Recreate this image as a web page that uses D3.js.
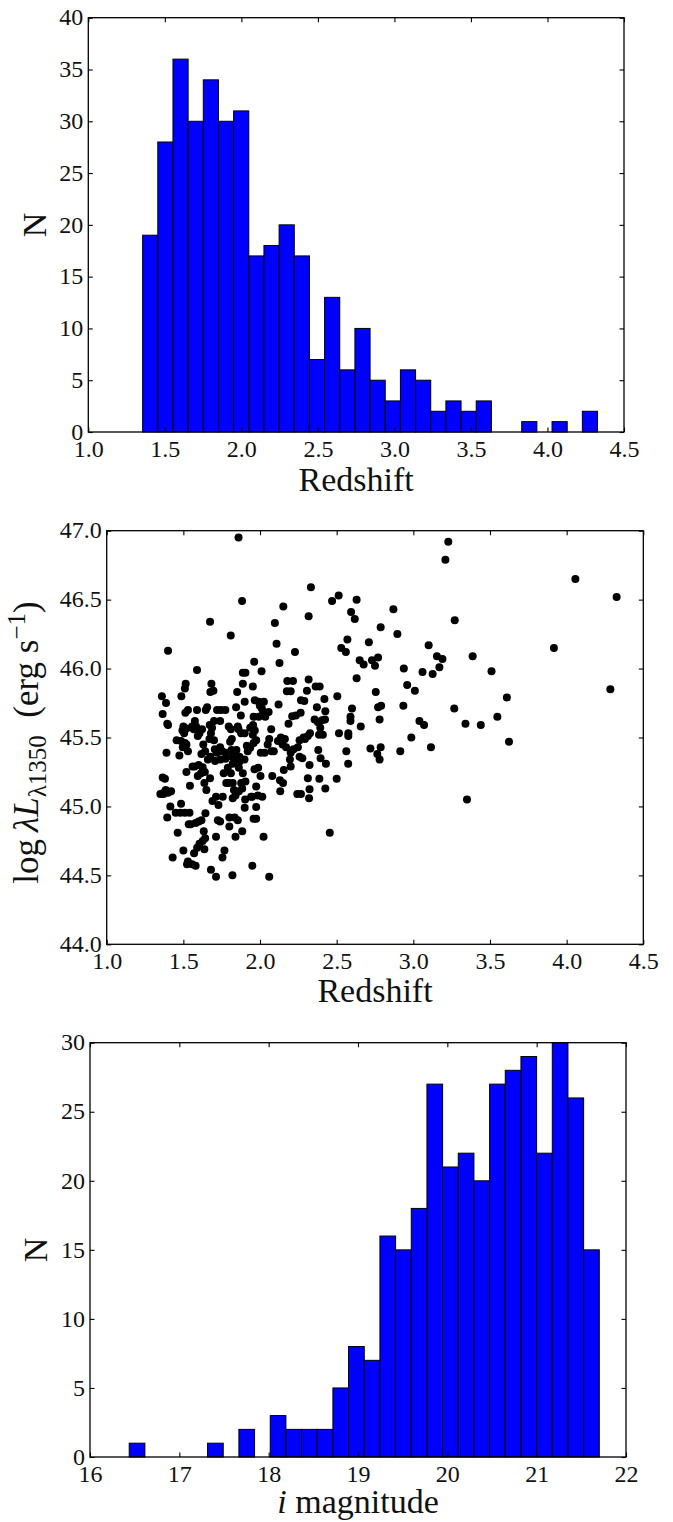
<!DOCTYPE html>
<html>
<head>
<meta charset="utf-8">
<script src="https://cdn.jsdelivr.net/npm/d3@7"></script>
<style>
  body { margin: 0; background: #fff; }
  svg { display: block; }
  text { font-family: "Liberation Serif", "Times New Roman", serif; fill: #111; }
</style>
</head>
<body>
<svg id="fig" width="673" height="1522"></svg>
<script>
// ---- Redshift histogram: 30 equal-width bins between the lowest and highest redshift
const zBinRange = [1.355, 4.327];
const zCounts = [19, 28, 36, 30, 34, 30, 31, 17, 18, 20, 17, 7, 13, 6, 10,
                 5, 3, 6, 5, 2, 3, 2, 3, 0, 0, 1, 0, 1, 0, 2];

// ---- i-band magnitude histogram: 30 equal-width bins
const magBinRange = [16.439, 21.701];
const magCounts = [1, 0, 0, 0, 0, 1, 0, 2, 0, 3, 2, 2, 2, 5, 8, 7, 16, 15, 18,
                   27, 21, 22, 20, 27, 28, 29, 22, 30, 26, 15];

// ---- Continuum luminosity at 1350 A against redshift, one [z, log L] pair per quasar
const zLum = [
  // z 1.35-1.45
  [1.36,45.80],[1.387,45.75],[1.365,45.67],[1.40,45.59],[1.395,45.60],[1.40,46.13],[1.39,45.39],
  [1.365,45.21],[1.38,45.20],[1.35,45.09],[1.37,45.09],[1.385,45.12],[1.40,45.10],[1.42,45.11],
  [1.395,44.92],[1.415,45.00],[1.43,44.63],[1.372,45.10],[1.45,44.955],
  // z 1.45-1.55
  [1.515,45.89],[1.51,45.855],[1.487,45.80],[1.513,45.68],[1.53,45.70],[1.50,45.58],[1.52,45.565],
  [1.494,45.55],[1.456,45.48],[1.485,45.475],[1.496,45.43],[1.474,45.37],[1.52,45.25],[1.543,45.15],
  [1.48,44.955],[1.485,45.02],[1.51,44.955],[1.54,44.955],[1.535,44.87],[1.548,44.87],[1.463,44.81],
  [1.50,44.68],[1.524,44.58],[1.53,44.60],[1.52,45.45],[1.505,45.53],[1.51,45.46],[1.53,45.40],
  // z 1.55-1.65
  [1.589,45.99],[1.589,45.70],[1.646,45.70],[1.557,45.58],[1.568,45.56],[1.583,45.58],[1.598,45.55],
  [1.594,45.51],[1.605,45.53],[1.622,45.56],[1.575,45.62],[1.618,45.38],[1.642,45.40],[1.56,45.29],
  [1.574,45.29],[1.60,45.30],[1.626,45.285],[1.64,45.25],[1.615,45.24],[1.594,45.22],[1.637,45.17],
  [1.650,45.12],[1.58,44.88],[1.60,44.89],[1.618,44.90],[1.644,44.95],[1.605,44.73],[1.59,44.70],
  [1.626,44.75],[1.633,44.82],[1.642,44.77],[1.637,44.69],[1.58,44.57],[1.57,44.66],[1.557,44.58],
  [1.63,45.45],
  // z 1.65-1.75
  [1.674,46.34],[1.683,45.89],[1.676,45.83],[1.696,45.84],[1.655,45.72],[1.72,45.70],[1.745,45.70],
  [1.70,45.62],[1.74,45.62],[1.672,45.59],[1.687,45.57],[1.68,45.53],[1.67,45.49],[1.70,45.48],
  [1.66,45.34],[1.676,45.36],[1.705,45.415],[1.718,45.39],[1.74,45.43],[1.707,45.33],[1.742,45.34],
  [1.674,45.205],[1.713,45.07],[1.69,45.04],[1.729,45.01],[1.725,44.90],[1.74,44.89],[1.713,44.78],
  [1.68,44.54],[1.713,44.49],
  // z 1.75-1.85
  [1.809,46.24],[1.774,45.70],[1.844,45.72],[1.796,45.58],[1.81,45.56],[1.816,45.49],[1.805,45.47],
  [1.753,45.40],[1.775,45.39],[1.775,45.345],[1.814,45.41],[1.833,45.38],[1.846,45.41],[1.818,45.36],
  [1.833,45.345],[1.822,45.31],[1.844,45.33],[1.79,45.28],[1.763,45.24],[1.81,45.24],[1.796,45.17],
  [1.822,45.17],[1.83,45.12],[1.84,45.08],[1.822,45.06],[1.78,45.17],[1.757,45.07],[1.80,44.92],
  [1.835,44.92],[1.84,44.78],[1.80,44.855],[1.768,44.68],[1.755,44.63],[1.82,44.50],
  // z 1.85-1.95
  [1.86,46.95],[1.883,46.49],[1.888,45.97],[1.905,45.97],[1.888,45.89],[1.851,45.83],[1.90,45.76],
  [1.875,45.66],[1.855,45.58],[1.86,45.56],[1.877,45.53],[1.90,45.53],[1.936,45.57],[1.914,45.44],
  [1.936,45.425],[1.899,45.34],[1.866,45.36],[1.866,45.325],[1.92,45.40],[1.862,45.28],[1.888,45.24],
  [1.877,45.17],[1.905,45.18],[1.862,45.11],[1.884,45.13],[1.903,45.05],[1.942,45.07],[1.90,44.99],
  [1.884,44.82],[1.855,44.90],
  // z 1.95-2.05
  [1.962,46.05],[2.01,45.98],[1.953,45.87],[1.966,45.77],[1.992,45.76],[2.025,45.76],[1.999,45.73],
  [2.012,45.71],[1.958,45.65],[1.992,45.65],[2.034,45.65],[1.955,45.59],[1.966,45.55],[1.953,45.52],
  [1.975,45.48],[1.958,45.46],[2.005,45.39],[2.03,45.39],[1.964,45.27],[1.988,45.28],[2.003,45.22],
  [1.975,45.145],[1.95,45.07],[1.986,45.08],[2.015,45.07],[1.975,44.995],[1.958,44.91],[1.975,44.91],
  [1.95,44.57],[2.023,44.78],[2.02,45.68],
  // z 2.05-2.15
  [2.097,46.33],[2.108,46.18],[2.127,46.04],[2.121,45.74],[2.056,45.685],[2.073,45.56],[2.06,45.49],
  [2.05,45.45],[2.075,45.40],[2.117,45.475],[2.136,45.50],[2.147,45.45],[2.08,45.22],[2.13,45.19],
  [2.132,45.11],[2.06,44.49],[2.09,45.40],
  // z 2.15-2.25
  [2.152,46.45],[2.228,46.12],[2.178,45.91],[2.215,45.91],[2.175,45.835],[2.20,45.835],[2.186,45.60],
  [2.21,45.655],[2.234,45.66],[2.162,45.49],[2.20,45.39],[2.219,45.415],[2.195,45.34],[2.20,45.29],
  [2.155,45.265],[2.15,45.17],[2.243,45.09],[2.17,45.43],
  // z 2.25-2.35
  [2.332,46.59],[2.317,46.38],[2.317,45.92],[2.306,45.84],[2.267,45.77],[2.289,45.765],[2.265,45.68],
  [2.247,45.43],[2.258,45.48],[2.284,45.50],[2.293,45.49],[2.326,45.53],[2.312,45.51],[2.258,45.36],
  [2.276,45.35],[2.323,45.30],[2.312,45.205],[2.323,45.125],[2.32,45.06],[2.267,45.09],
  // z 2.35-2.45
  [2.363,45.87],[2.389,45.87],[2.42,45.78],[2.371,45.72],[2.426,45.69],[2.356,45.63],[2.378,45.61],
  [2.404,45.625],[2.424,45.63],[2.393,45.57],[2.385,45.52],[2.41,45.52],[2.38,45.41],[2.43,45.31],
  [2.387,45.20],[2.426,45.13],[2.395,45.35],
  // z 2.45-2.55
  [2.47,46.49],[2.513,46.53],[2.53,46.15],[2.504,45.80],[2.515,45.53],[2.50,45.20],[2.455,44.81],
  // z 2.55-2.65
  [2.63,46.50],[2.594,46.41],[2.618,46.36],[2.57,46.21],[2.56,46.12],[2.63,45.93],[2.60,45.71],
  [2.59,45.65],[2.59,45.62],[2.576,45.53],[2.576,45.51],[2.563,45.40],[2.575,45.31],
  // z 2.65-2.75
  [2.71,46.19],[2.65,46.06],[2.676,46.03],[2.657,45.58],[2.72,45.42],[2.73,46.06],
  // z 2.75-2.85
  [2.787,46.30],[2.77,46.08],[2.75,46.02],[2.755,45.83],[2.77,45.72],[2.79,45.73],[2.78,45.63],
  [2.787,45.43],[2.765,45.38],[2.78,45.34],
  // z 2.85 and above
  [2.87,46.43],[2.896,46.25],[2.935,45.73],[2.915,45.40],[2.938,46.00],
  [2.96,45.88],[3.01,45.84],[2.987,45.50],
  [3.04,45.62],[3.07,45.59],[3.115,45.43],[3.10,46.17],[3.126,45.96],[3.06,45.975],
  [3.154,46.09],[3.19,46.07],[3.17,46.01],[3.228,46.92],[3.209,46.79],
  [3.27,46.35],[3.267,45.71],
  [3.34,45.60],[3.387,46.09],[3.35,45.05],
  [3.44,45.59],[3.51,45.98],
  [3.548,45.65],[3.61,45.79],[3.624,45.47],
  [3.917,46.15],[4.057,46.65],[4.285,45.85],[4.326,46.52]
];

// ---- tick values
const zTicks = [1.0, 1.5, 2.0, 2.5, 3.0, 3.5, 4.0, 4.5];
const nTicksTop = [0, 5, 10, 15, 20, 25, 30, 35, 40];
const lumTicks = [44.0, 44.5, 45.0, 45.5, 46.0, 46.5, 47.0];
const magTicks = [16, 17, 18, 19, 20, 21, 22];
const nTicksBottom = [0, 5, 10, 15, 20, 25, 30];

const svg = d3.select("#fig");
const TICK = 4.5;
const TICK_FONT = 24;
const LABEL_FONT = 34;

// Draws inward ticks on all four sides, tick labels on bottom/left and the frame.
function frame(g, x, y, xTicks, yTicks, xFmt, yFmt) {
  const w = x.range()[1] - x.range()[0];
  const h = y.range()[0] - y.range()[1];
  const styleAxis = sel => {
    sel.attr("font-family", null).attr("font-size", null);
    sel.select(".domain").remove();
    sel.selectAll(".tick line").attr("stroke", "#000").attr("stroke-width", 1.1);
    sel.selectAll(".tick text")
      .attr("fill", "#111")
      .style("font-family", "'Liberation Serif', serif")
      .style("font-size", TICK_FONT + "px");
  };
  g.append("g").attr("transform", `translate(0,${h})`)
    .call(d3.axisBottom(x).tickValues(xTicks).tickFormat(xFmt).tickSizeInner(-TICK).tickSizeOuter(0).tickPadding(8))
    .call(styleAxis);
  g.append("g")
    .call(d3.axisTop(x).tickValues(xTicks).tickFormat("").tickSizeInner(-TICK).tickSizeOuter(0))
    .call(styleAxis);
  g.append("g")
    .call(d3.axisLeft(y).tickValues(yTicks).tickFormat(yFmt).tickSizeInner(-TICK).tickSizeOuter(0).tickPadding(5))
    .call(styleAxis)
    .selectAll(".tick text").attr("dy", "0.30em");
  g.append("g").attr("transform", `translate(${w},0)`)
    .call(d3.axisRight(y).tickValues(yTicks).tickFormat("").tickSizeInner(-TICK).tickSizeOuter(0))
    .call(styleAxis);
  g.append("rect")
    .attr("width", w).attr("height", h)
    .attr("fill", "none").attr("stroke", "#000").attr("stroke-width", 1.3);
}

function histogram(box, domainX, xTicks, xFmt, range, counts, yMax, yTicks) {
  const g = svg.append("g").attr("transform", `translate(${box.x0},${box.y0})`);
  const x = d3.scaleLinear().domain(domainX).range([0, box.x1 - box.x0]);
  const y = d3.scaleLinear().domain([0, yMax]).range([box.y1 - box.y0, 0]);
  const step = (range[1] - range[0]) / counts.length;
  const bins = counts.map((c, i) => ({ lo: range[0] + i * step, hi: range[0] + (i + 1) * step, n: c }));
  g.append("g").selectAll("rect").data(bins).join("rect")
    .attr("x", d => x(d.lo))
    .attr("width", d => x(d.hi) - x(d.lo))
    .attr("y", d => y(d.n))
    .attr("height", d => y(0) - y(d.n))
    .attr("fill", "#0000ff")
    .attr("stroke", "#000")
    .attr("stroke-width", 1);
  frame(g, x, y, xTicks, yTicks, xFmt, d3.format("d"));
  return g;
}

function rotatedLabel(x, y, text) {
  return svg.append("text")
    .attr("transform", `translate(${x},${y}) rotate(-90)`)
    .attr("text-anchor", "middle")
    .style("font-size", LABEL_FONT + "px")
    .text(text);
}

// ---- Panel 1: redshift distribution
const box1 = { x0: 88.3, x1: 624, y0: 17.7, y1: 432 };
histogram(box1, [1.0, 4.5], zTicks, d3.format(".1f"), zBinRange, zCounts, 40, nTicksTop);
svg.append("text").attr("x", (box1.x0 + box1.x1) / 2).attr("y", box1.y1 + 59)
  .attr("text-anchor", "middle").style("font-size", LABEL_FONT + "px").text("Redshift");
rotatedLabel(46, (box1.y0 + box1.y1) / 2, "N");

// ---- Panel 2: luminosity vs redshift
const box2 = { x0: 106.7, x1: 643.3, y0: 530.7, y1: 944.3 };
{
  const g = svg.append("g").attr("transform", `translate(${box2.x0},${box2.y0})`);
  const x = d3.scaleLinear().domain([1.0, 4.5]).range([0, box2.x1 - box2.x0]);
  const y = d3.scaleLinear().domain([44.0, 47.0]).range([box2.y1 - box2.y0, 0]);
  g.append("g").selectAll("circle").data(zLum).join("circle")
    .attr("cx", d => x(d[0]))
    .attr("cy", d => y(d[1]))
    .attr("r", 4)
    .attr("fill", "#000");
  frame(g, x, y, zTicks, lumTicks, d3.format(".1f"), d3.format(".1f"));
}
svg.append("text").attr("x", (box2.x0 + box2.x1) / 2).attr("y", box2.y1 + 58)
  .attr("text-anchor", "middle").style("font-size", LABEL_FONT + "px").text("Redshift");
{
  const t = svg.append("text")
    .attr("transform", `translate(38,${(box2.y0 + box2.y1) / 2 + 5}) rotate(-90)`)
    .attr("text-anchor", "middle")
    .style("font-size", "35px");
  t.append("tspan").text("log\u2009");
  t.append("tspan").style("font-style", "italic").text("\u03bbL");
  t.append("tspan").attr("dy", 8).style("font-size", "25px").text("\u03bb1350");
  t.append("tspan").attr("dy", -8).text("\u2002(erg s");
  t.append("tspan").attr("dy", -13).style("font-size", "25px").text("\u22121");
  t.append("tspan").attr("dy", 13).text(")");
}

// ---- Panel 3: i-band magnitude distribution
const box3 = { x0: 90, x1: 626, y0: 1042.7, y1: 1457 };
histogram(box3, [16, 22], magTicks, d3.format("d"), magBinRange, magCounts, 30, nTicksBottom);
{
  const t = svg.append("text").attr("x", (box3.x0 + box3.x1) / 2).attr("y", box3.y1 + 56)
    .attr("text-anchor", "middle").style("font-size", LABEL_FONT + "px");
  t.append("tspan").style("font-style", "italic").text("i");
  t.append("tspan").text(" magnitude");
}
rotatedLabel(47, (box3.y0 + box3.y1) / 2, "N");
</script>
</body>
</html>
